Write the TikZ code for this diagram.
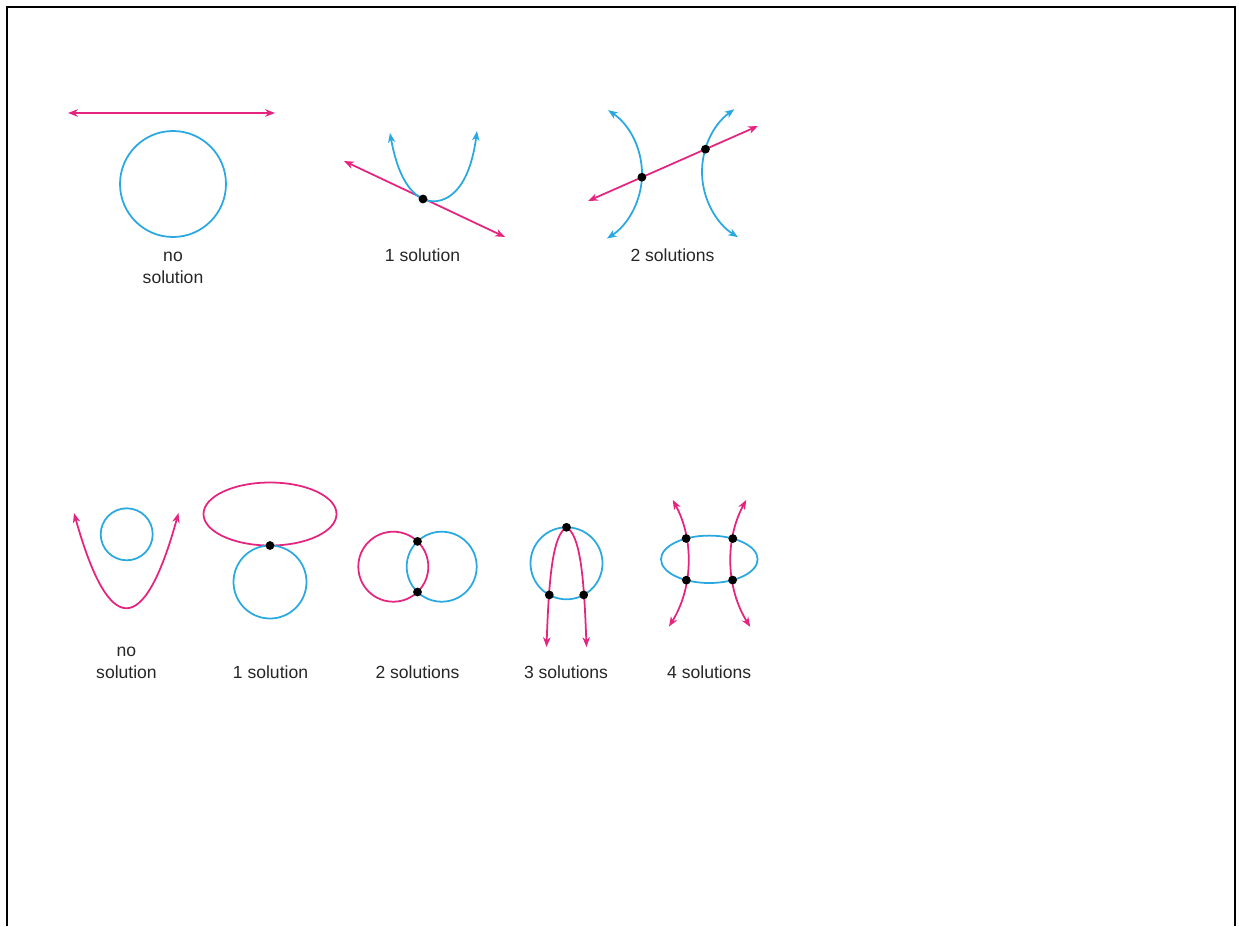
\documentclass[tikz,border=0pt]{standalone}
\usepackage{fontspec}
\setmainfont{Liberation Sans}
\usepackage{tikz}
\usetikzlibrary{arrows.meta, intersections}
\definecolor{curvepink}{HTML}{E5247F}
\definecolor{curveblue}{HTML}{2AA8E0}

\begin{document}
\begin{tikzpicture}[
        x=0.02cm, y=-0.02cm,
        pinkline/.style = {draw=curvepink, line width=1pt},
        blueline/.style = {draw=curveblue, line width=1pt},
        twoway/.style   = {{Stealth[length=5.5pt, width=4.2pt, inset=1.6pt]}-{Stealth[length=5.5pt, width=4.2pt, inset=1.6pt]}},
        meet/.style     = {circle, fill=black, inner sep=0pt, minimum size=5pt},
        caption/.style  = {font=\fontsize{10}{12.2}\selectfont, align=center, anchor=base, text=black!85},
    ]
        \useasboundingbox (0,0) rectangle (1239,926);
        \draw[line width=1.3pt] (7,926) -- (7,7) -- (1235,7) -- (1235,926);

        % line and circle
        \draw[pinkline, twoway] (68,113) -- (275,113);
        \draw[blueline] (173,184) circle[radius=53];
        \node[caption] (nolineA) at (173,283) {no\\solution};

        % line and parabola
        \draw[pinkline, twoway] (344,161) -- (505,237);
        \draw[blueline, twoway] (390,133) .. controls (397,172) and (408,192) .. (423,199)
            .. controls (438,206) and (468,200) .. (477,131);
        \node[meet] (tangA) at (423,199) {};
        \node[caption] (onelineA) at (422.5,261.5) {1 solution};

        % line and hyperbola
        \draw[blueline, twoway, name path=hypL] (565,174) ++(-56:77) arc[start angle=-56, end angle=57, radius=77];
        \draw[blueline, twoway, name path=hypR] (779,172) ++(234.6:77) arc[start angle=234.6, end angle=122.2, radius=77];
        \draw[pinkline, twoway, name path=secant] (588,201) -- (758,126);
        \path[name intersections={of=hypL and secant, by=crossL}];
        \path[name intersections={of=hypR and secant, by=crossR}];
        \node[meet] at (crossL) {};
        \node[meet] at (crossR) {};
        \node[caption] (twolineA) at (672.5,261.5) {2 solutions};

        % parabola and circle
        \draw[blueline] (126.7,534.3) circle[radius=26];
        \draw[pinkline, twoway] (74,513) .. controls (109,638) and (144,638) .. (178.5,513);
        \node[caption] (nolineB) at (126.5,678.3) {no\\solution};

        % ellipse and circle
        \draw[pinkline] (270,514) ellipse[x radius=66.5, y radius=31.5];
        \draw[blueline] (270,582) circle[radius=36.5];
        \node[meet] (touchB) at (270,545.5) {};
        \node[caption] (onelineB) at (270.5,678.3) {1 solution};

        % two circles
        \draw[pinkline] (393.3,566.7) circle[radius=35];
        \draw[blueline] (441.7,566.7) circle[radius=35];
        \node[meet] (capB) at (417.5,541.4) {};
        \node[meet] (cupB) at (417.5,592) {};
        \node[caption] (twolineB) at (417.5,678.3) {2 solutions};

        % arch and circle
        \draw[blueline] (566.5,563.3) circle[radius=36];
        \draw[pinkline, twoway] (546.5,647) .. controls (549,575) and (553,535) .. (566.5,527.3)
            .. controls (580,535) and (584,575) .. (586.5,647);
        \node[meet] (topB) at (566.5,527.3) {};
        \node[meet] (leftB) at (549.3,594.9) {};
        \node[meet] (rightB) at (583.7,594.9) {};
        \node[caption] (threelineB) at (566,678.3) {3 solutions};

        % hyperbola and ellipse
        \draw[blueline, name path=oval] (709.3,559.3) ellipse[x radius=48.3, y radius=23.7];
        \draw[pinkline, twoway, name path=armL] (562,560) ++(-28.5:126) arc[start angle=-28.5, end angle=31.9, radius=126];
        \draw[pinkline, twoway, name path=armR] (857,560) ++(208.5:126) arc[start angle=208.5, end angle=147.9, radius=126];
        \path[name intersections={of=oval and armL, by={ovalA, ovalB}}];
        \path[name intersections={of=oval and armR, by={ovalC, ovalD}}];
        \foreach \p in {ovalA, ovalB, ovalC, ovalD}
            \node[meet] at (\p) {};
        \node[caption] (fourlineB) at (709.2,678.3) {4 solutions};
    \end{tikzpicture}
\end{document}
